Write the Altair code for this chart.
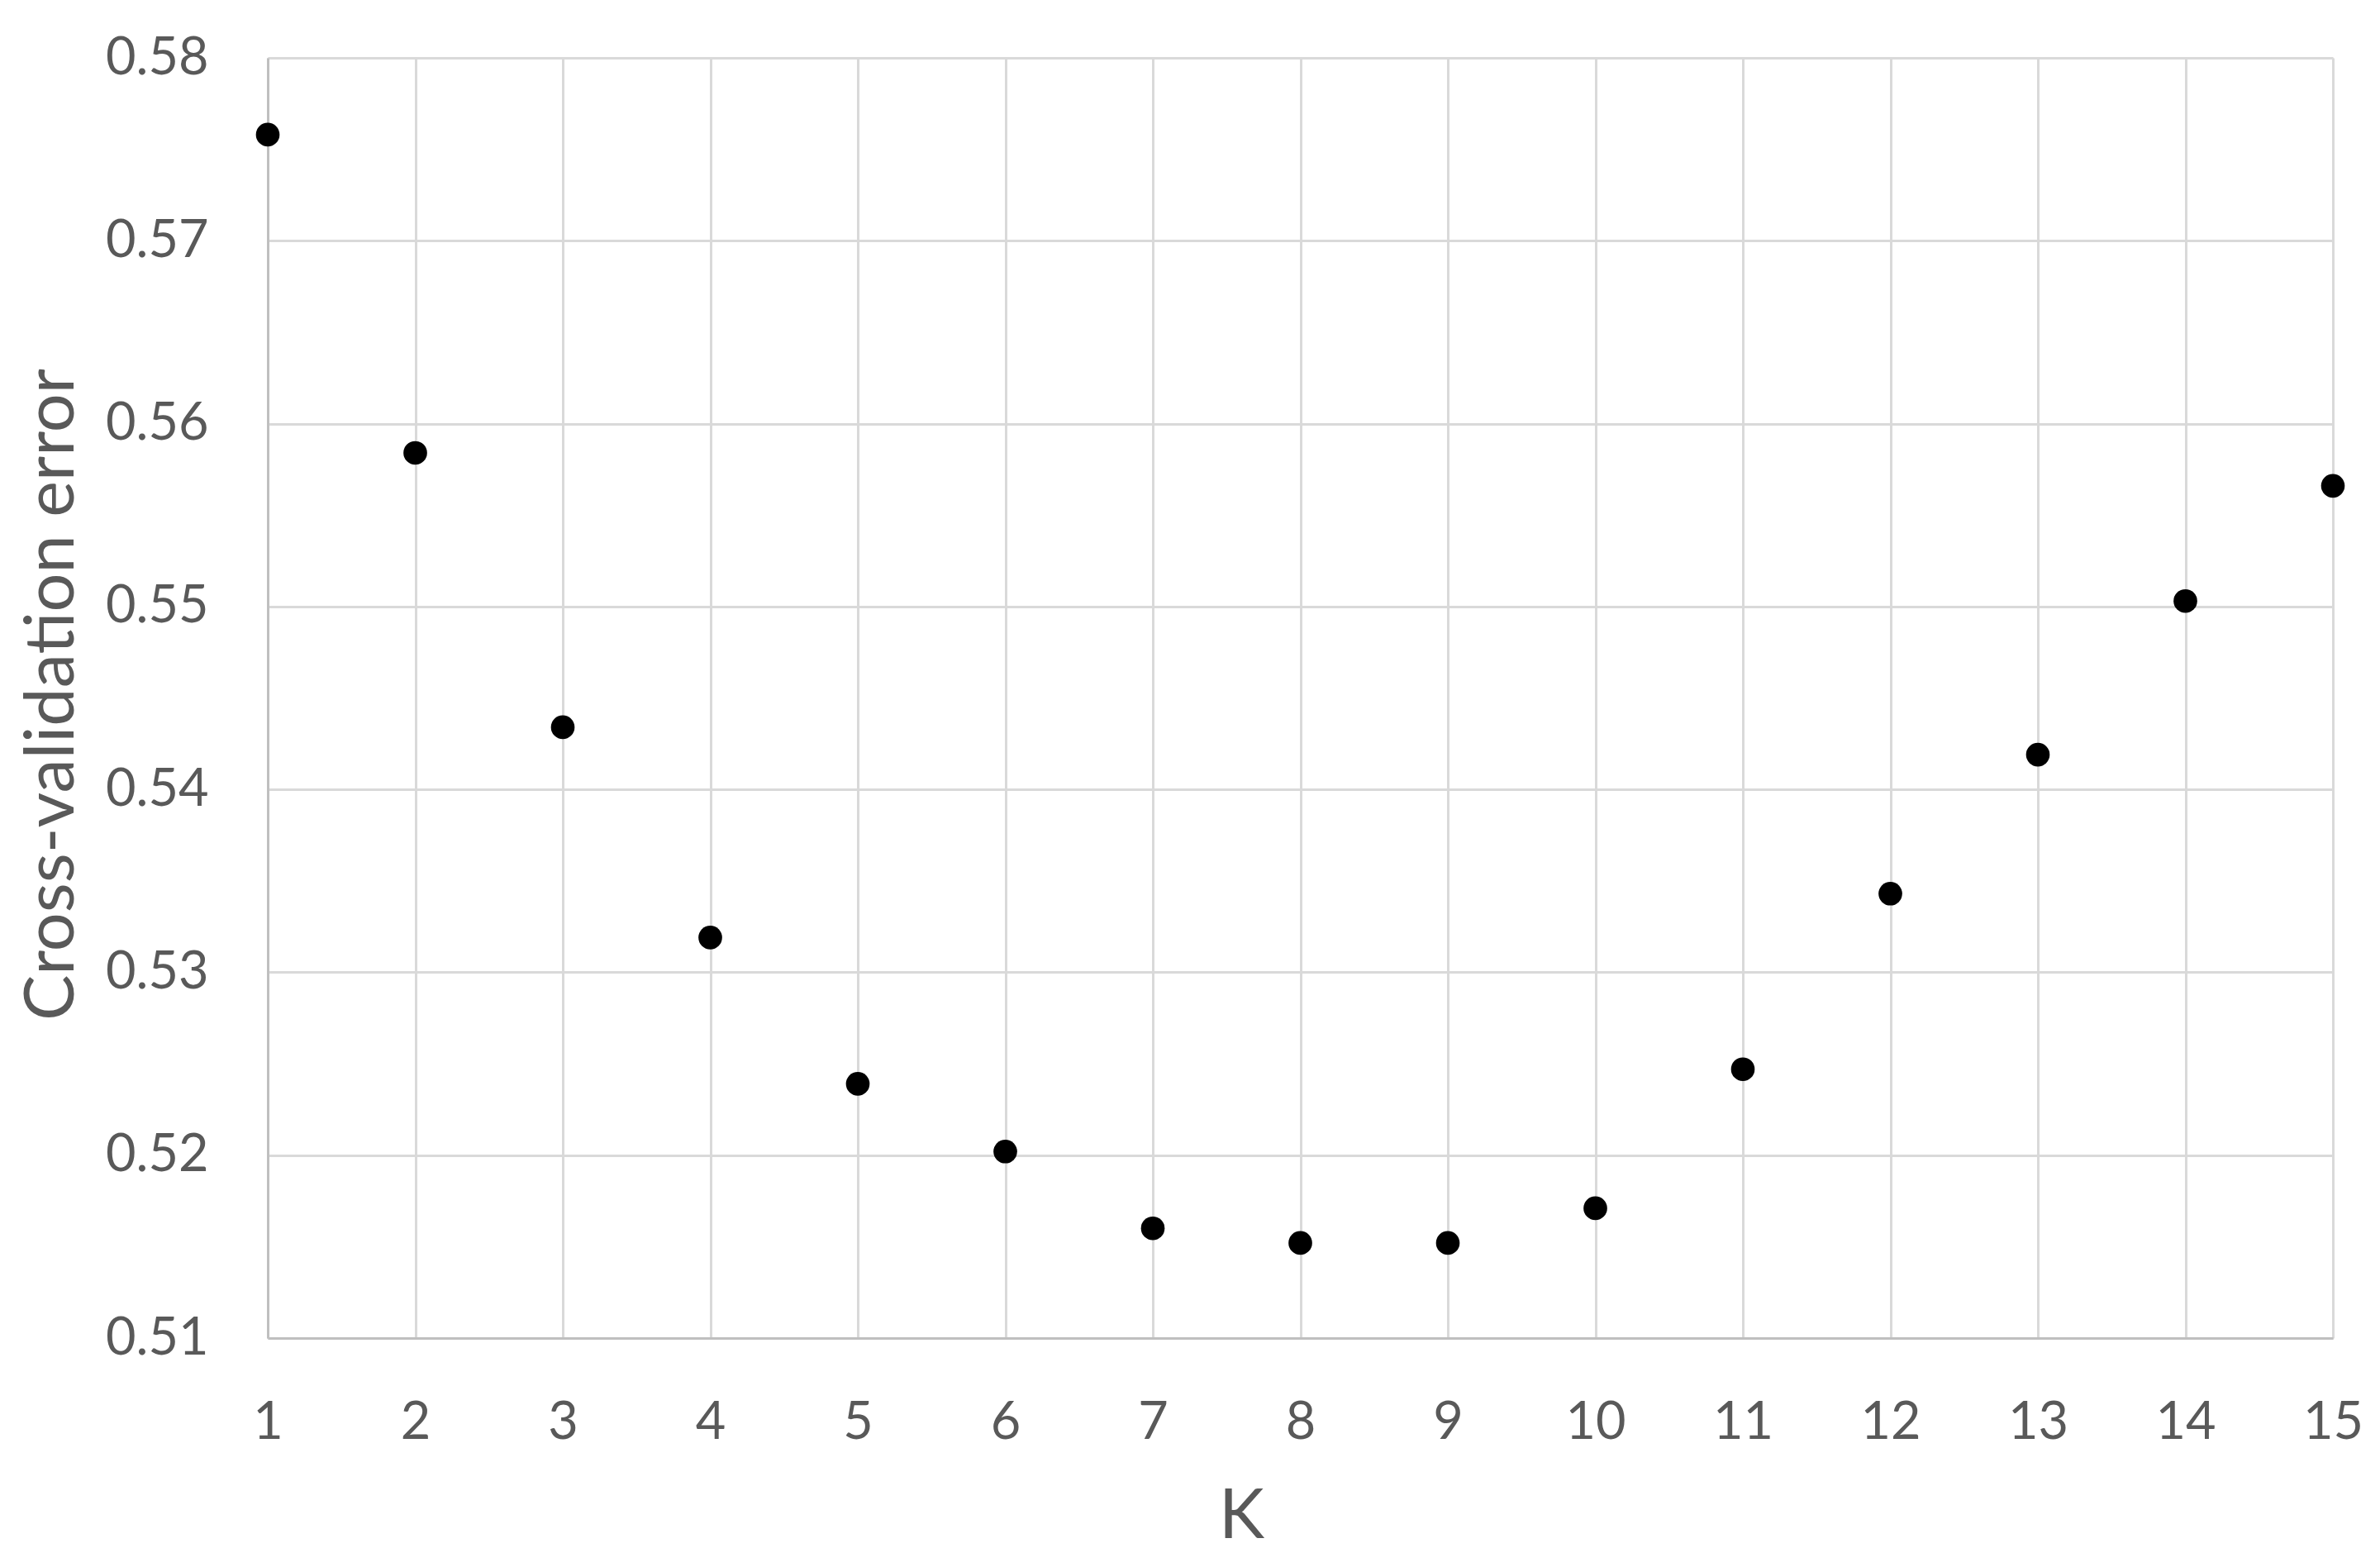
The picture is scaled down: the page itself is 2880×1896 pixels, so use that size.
import altair as alt
import pandas as pd

k_values = list(range(1, 16))
cv_error = [0.5758, 0.5584, 0.5434, 0.5319, 0.5239, 0.5202, 0.5160, 0.5152,
            0.5152, 0.5171, 0.5247, 0.5343, 0.5419, 0.5503, 0.5566]
y_ticks = [0.51, 0.52, 0.53, 0.54, 0.55, 0.56, 0.57, 0.58]

df = pd.DataFrame({"K": k_values, "err": cv_error})

FONT = "Lato"
LABEL = "#595959"
GRID = "#d9d9d9"

chart = alt.Chart(df).mark_circle(color="black", opacity=1, size=820).encode(
    x=alt.X("K:Q",
            scale=alt.Scale(domain=[1, 15], nice=False, zero=False),
            axis=alt.Axis(values=k_values, title="K", format="d",
                          grid=True, gridColor=GRID, gridWidth=3,
                          domainColor="#bfbfbf", domainWidth=3,
                          ticks=False, tickSize=0,
                          labelFont=FONT, labelFontSize=63, labelColor=LABEL,
                          labelBaseline="alphabetic", labelPadding=121,
                          labelFlush=False, labelOverlap=False,
                          titleFont=FONT, titleFontSize=83, titleFontWeight="normal",
                          titleColor=LABEL, titleX=1178, titleY=241,
                          titleBaseline="alphabetic", titleAlign="center")),
    y=alt.Y("err:Q",
            scale=alt.Scale(domain=[0.51, 0.58], nice=False, zero=False),
            axis=alt.Axis(values=y_ticks, title="Cross-validation error", format=".2f",
                          grid=True, gridColor=GRID, gridWidth=3,
                          domainColor="#bfbfbf", domainWidth=3,
                          ticks=False, tickSize=0,
                          labelFont=FONT, labelFontSize=63, labelColor=LABEL,
                          labelPadding=72, labelFlush=False, labelOverlap=False,
                          titleFont=FONT, titleFontSize=83, titleFontWeight="normal",
                          titleColor=LABEL, titleX=-236, titleY=770, titleAngle=-90,
                          titleBaseline="alphabetic", titleAlign="center")),
).properties(
    width=2499, height=1549,
    autosize=alt.AutoSizeParams(type="none"),
    padding={"left": 316, "top": 62, "right": 49, "bottom": 260},
).configure_view(stroke=None).configure(background="white")

chart.save("out.html", embed_options={"renderer": "svg", "actions": False})
